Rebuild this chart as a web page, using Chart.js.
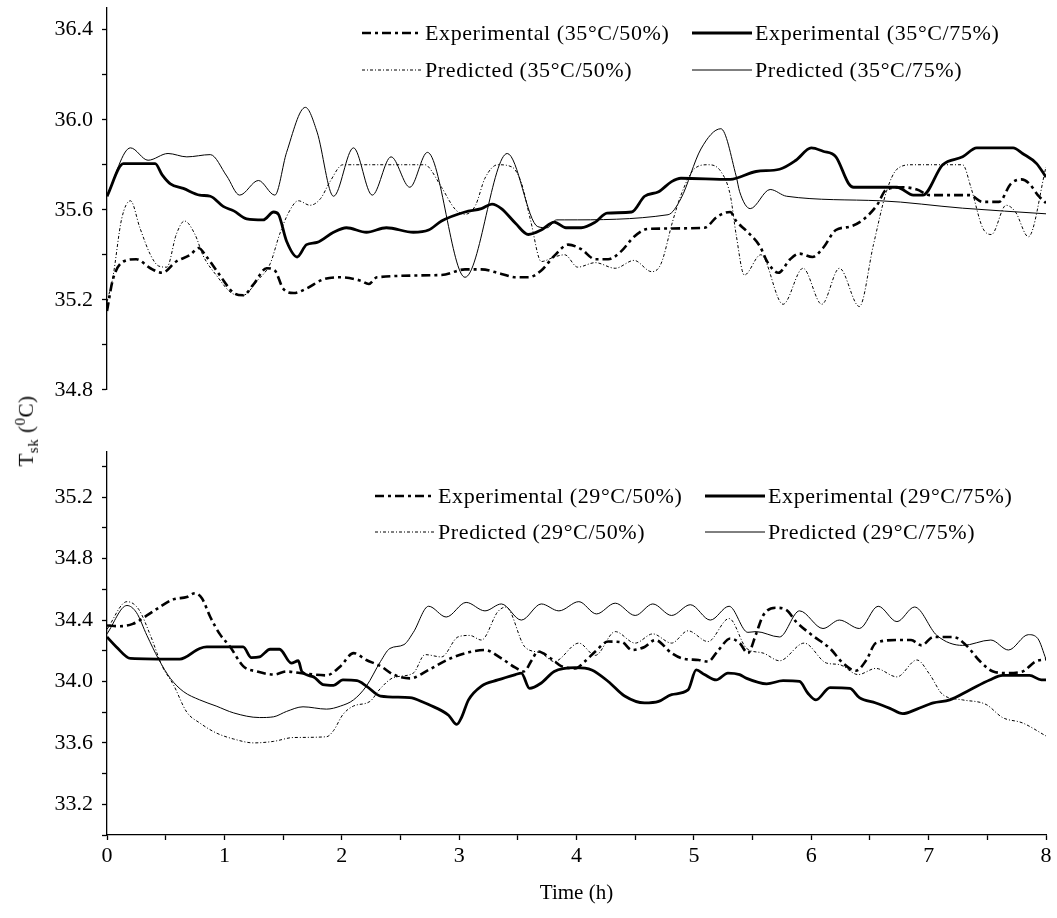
<!DOCTYPE html>
<html>
<head>
<meta charset="utf-8">
<script src="https://cdn.jsdelivr.net/npm/chart.js@4.4.0/dist/chart.umd.min.js"></script>
<style>
  body { margin: 0; background: #fff; width: 1057px; height: 918px; position: relative; overflow: hidden; font-family: "Liberation Serif", serif; }
  #topChart { position: absolute; left: 0; top: -15px; }
  #botChart { position: absolute; left: 0; top: 429px; }
  #yTitle { position: absolute; left: 27px; top: 431px; transform: translate(-50%, -50%) rotate(-90deg); font-size: 21px; white-space: nowrap; color: #000; letter-spacing: 0.5px; }
  #yTitle sub, #yTitle sup { font-size: 15px; }
</style>
</head>
<body>
<canvas id="topChart" width="1057" height="427"></canvas>
<canvas id="botChart" width="1057" height="489"></canvas>
<div id="yTitle">T<sub>sk</sub> (<sup>0</sup>C)</div>
<script>
// [time (h), skin temperature (°C)]
const exp35_50 = [[0,35.15],[0.05,35.29],[0.14,35.37],[0.25,35.38],[0.37,35.34],[0.47,35.32],[0.59,35.37],[0.71,35.40],[0.78,35.43],[0.85,35.39],[0.96,35.31],[1.08,35.23],[1.16,35.22],[1.25,35.27],[1.36,35.34],[1.43,35.33],[1.50,35.25],[1.59,35.23],[1.70,35.25],[1.84,35.29],[1.99,35.30],[2.16,35.285],[2.23,35.27],[2.30,35.30],[2.85,35.31],[3.05,35.335],[3.19,35.335],[3.36,35.315],[3.48,35.30],[3.59,35.30],[3.70,35.33],[3.81,35.395],[3.93,35.445],[4.04,35.425],[4.16,35.38],[4.27,35.38],[4.38,35.415],[4.49,35.48],[4.61,35.515],[5.09,35.52],[5.20,35.57],[5.31,35.59],[5.36,35.55],[5.45,35.505],[5.56,35.44],[5.63,35.365],[5.72,35.32],[5.82,35.38],[5.90,35.405],[6.01,35.39],[6.10,35.43],[6.21,35.51],[6.33,35.525],[6.44,35.555],[6.56,35.62],[6.64,35.69],[6.78,35.70],[6.90,35.69],[7.01,35.665],[7.35,35.665],[7.46,35.635],[7.60,35.635],[7.70,35.715],[7.79,35.735],[7.86,35.715],[7.93,35.665],[8.0,35.63]];
const exp35_75 = [[0,35.66],[0.14,35.805],[0.41,35.805],[0.47,35.755],[0.54,35.715],[0.65,35.695],[0.79,35.665],[0.88,35.66],[0.99,35.615],[1.08,35.595],[1.19,35.56],[1.33,35.555],[1.42,35.59],[1.46,35.58],[1.53,35.46],[1.62,35.39],[1.70,35.445],[1.79,35.455],[1.93,35.50],[2.04,35.52],[2.21,35.50],[2.38,35.52],[2.61,35.50],[2.74,35.51],[2.85,35.55],[3.05,35.59],[3.19,35.605],[3.28,35.625],[3.36,35.605],[3.48,35.54],[3.59,35.49],[3.70,35.51],[3.81,35.545],[3.91,35.52],[4.04,35.52],[4.16,35.545],[4.26,35.585],[4.47,35.59],[4.58,35.66],[4.70,35.68],[4.81,35.725],[4.89,35.74],[5.31,35.735],[5.53,35.77],[5.73,35.78],[5.87,35.82],[6.0,35.875],[6.10,35.86],[6.21,35.835],[6.32,35.715],[6.36,35.70],[6.73,35.70],[6.87,35.665],[6.95,35.665],[7.12,35.80],[7.29,35.835],[7.41,35.875],[7.72,35.875],[7.80,35.85],[7.92,35.805],[8.0,35.745]];
const pred35_50 = [[0,35.19],[0.05,35.30],[0.125,35.56],[0.2,35.64],[0.28,35.52],[0.37,35.40],[0.44,35.35],[0.51,35.345],[0.59,35.49],[0.66,35.55],[0.75,35.49],[0.82,35.395],[0.93,35.31],[1.08,35.225],[1.16,35.22],[1.28,35.285],[1.39,35.36],[1.47,35.49],[1.55,35.59],[1.63,35.64],[1.73,35.62],[1.82,35.65],[1.90,35.725],[2.01,35.80],[2.71,35.80],[2.74,35.79],[2.85,35.70],[2.97,35.60],[3.05,35.58],[3.14,35.62],[3.22,35.74],[3.33,35.80],[3.45,35.79],[3.53,35.72],[3.61,35.55],[3.70,35.37],[3.81,35.39],[3.90,35.40],[4.01,35.345],[4.16,35.365],[4.33,35.34],[4.49,35.375],[4.64,35.325],[4.72,35.36],[4.82,35.55],[4.89,35.665],[5.0,35.78],[5.12,35.80],[5.23,35.77],[5.31,35.665],[5.36,35.49],[5.43,35.31],[5.57,35.40],[5.76,35.18],[5.93,35.34],[6.09,35.18],[6.24,35.34],[6.41,35.17],[6.53,35.445],[6.64,35.68],[6.73,35.78],[6.86,35.80],[7.29,35.80],[7.36,35.70],[7.46,35.52],[7.535,35.49],[7.66,35.62],[7.74,35.59],[7.85,35.48],[8.0,35.79]];
const pred35_75 = [[0,35.665],[0.2,35.875],[0.35,35.82],[0.52,35.85],[0.68,35.835],[0.88,35.845],[1.02,35.75],[1.13,35.665],[1.29,35.73],[1.43,35.665],[1.53,35.855],[1.69,36.055],[1.79,35.945],[1.93,35.66],[2.1,35.875],[2.26,35.665],[2.42,35.835],[2.58,35.70],[2.73,35.855],[3.05,35.30],[3.41,35.85],[3.67,35.525],[3.75,35.52],[3.83,35.555],[3.90,35.555],[4.78,35.578],[4.89,35.65],[5.06,35.87],[5.23,35.96],[5.36,35.75],[5.39,35.68],[5.48,35.605],[5.65,35.69],[5.79,35.66],[6.585,35.64],[7.29,35.607],[8.0,35.582]];

const exp29_50 = [[0,34.365],[0.11,34.36],[0.22,34.375],[0.34,34.43],[0.45,34.485],[0.565,34.535],[0.68,34.55],[0.75,34.575],[0.81,34.54],[0.88,34.42],[0.96,34.31],[1.05,34.225],[1.16,34.10],[1.28,34.065],[1.42,34.045],[1.53,34.065],[1.645,34.055],[1.87,34.04],[1.99,34.10],[2.10,34.185],[2.21,34.14],[2.33,34.10],[2.44,34.045],[2.58,34.02],[2.74,34.075],[2.91,34.145],[3.08,34.19],[3.22,34.205],[3.36,34.15],[3.48,34.09],[3.55,34.065],[3.62,34.14],[3.67,34.195],[3.79,34.145],[3.87,34.10],[3.99,34.085],[4.07,34.13],[4.16,34.195],[4.27,34.26],[4.39,34.255],[4.47,34.205],[4.58,34.225],[4.67,34.27],[4.81,34.185],[4.90,34.15],[5.04,34.14],[5.12,34.13],[5.21,34.205],[5.31,34.28],[5.39,34.25],[5.46,34.185],[5.53,34.31],[5.59,34.43],[5.70,34.48],[5.79,34.465],[5.87,34.39],[6.01,34.30],[6.16,34.215],[6.27,34.12],[6.38,34.07],[6.47,34.14],[6.55,34.25],[6.73,34.27],[6.85,34.27],[6.94,34.235],[7.04,34.29],[7.21,34.29],[7.32,34.235],[7.44,34.13],[7.55,34.065],[7.66,34.055],[7.80,34.065],[7.91,34.13],[8.0,34.145]];
const exp29_75 = [[0,34.29],[0.08,34.225],[0.2,34.15],[0.62,34.145],[0.79,34.215],[0.85,34.225],[1.16,34.225],[1.23,34.155],[1.30,34.16],[1.39,34.21],[1.47,34.21],[1.57,34.12],[1.63,34.135],[1.66,34.065],[1.76,34.03],[1.84,33.98],[1.93,33.975],[2.01,34.01],[2.13,34.005],[2.21,33.97],[2.33,33.905],[2.58,33.895],[2.71,33.86],[2.74,33.85],[2.91,33.78],[2.98,33.72],[3.02,33.765],[3.08,33.88],[3.19,33.97],[3.33,34.01],[3.48,34.045],[3.53,34.055],[3.60,33.955],[3.70,33.99],[3.81,34.065],[3.99,34.09],[4.13,34.075],[4.27,34.0],[4.41,33.905],[4.58,33.86],[4.70,33.87],[4.81,33.915],[4.95,33.945],[5.02,34.075],[5.09,34.045],[5.19,34.01],[5.29,34.055],[5.39,34.045],[5.45,34.02],[5.62,33.985],[5.76,34.005],[5.90,34.0],[5.97,33.925],[6.04,33.88],[6.16,33.96],[6.33,33.955],[6.41,33.895],[6.55,33.86],[6.67,33.825],[6.78,33.79],[6.90,33.82],[7.04,33.86],[7.18,33.88],[7.35,33.945],[7.52,34.01],[7.63,34.04],[7.86,34.04],[7.96,34.01],[8.0,34.01]];
const pred29_50 = [[0,34.34],[0.17,34.52],[0.27,34.47],[0.37,34.30],[0.47,34.10],[0.565,33.98],[0.68,33.80],[0.79,33.73],[0.93,33.665],[1.08,33.625],[1.25,33.60],[1.42,33.61],[1.59,33.635],[1.87,33.64],[1.93,33.68],[2.01,33.785],[2.10,33.84],[2.24,33.87],[2.33,33.955],[2.44,34.025],[2.61,34.055],[2.71,34.175],[2.85,34.16],[2.99,34.29],[3.09,34.30],[3.19,34.27],[3.33,34.455],[3.40,34.485],[3.56,34.225],[3.70,34.185],[3.81,34.13],[4.02,34.25],[4.16,34.17],[4.33,34.325],[4.50,34.25],[4.65,34.31],[4.81,34.25],[4.95,34.33],[5.12,34.26],[5.30,34.41],[5.45,34.215],[5.59,34.185],[5.73,34.135],[5.94,34.25],[6.13,34.12],[6.24,34.11],[6.40,34.045],[6.55,34.085],[6.73,34.03],[6.90,34.14],[7.01,34.045],[7.12,33.915],[7.29,33.88],[7.49,33.85],[7.63,33.765],[7.80,33.73],[8.0,33.645]];
const pred29_75 = [[0,34.31],[0.17,34.495],[0.25,34.45],[0.34,34.30],[0.44,34.145],[0.54,34.02],[0.65,33.935],[0.79,33.88],[0.93,33.84],[1.08,33.795],[1.30,33.765],[1.42,33.77],[1.53,33.805],[1.67,33.835],[1.87,33.82],[1.99,33.84],[2.10,33.88],[2.21,33.97],[2.33,34.13],[2.41,34.215],[2.53,34.24],[2.61,34.32],[2.74,34.49],[2.89,34.42],[3.06,34.515],[3.22,34.46],[3.36,34.505],[3.53,34.40],[3.70,34.505],[3.85,34.46],[4.02,34.52],[4.17,34.44],[4.33,34.51],[4.50,34.43],[4.65,34.505],[4.81,34.43],[4.97,34.50],[5.14,34.40],[5.30,34.49],[5.46,34.32],[5.53,34.325],[5.73,34.29],[5.90,34.46],[6.10,34.345],[6.24,34.40],[6.41,34.345],[6.57,34.49],[6.73,34.39],[6.88,34.485],[7.07,34.30],[7.29,34.235],[7.53,34.27],[7.68,34.205],[7.85,34.305],[7.93,34.28],[8.0,34.145]];

const labels35 = ['Experimental (35°C/50%)', 'Experimental (35°C/75%)', 'Predicted (35°C/50%)', 'Predicted (35°C/75%)'];
const labels29 = ['Experimental (29°C/50%)', 'Experimental (29°C/75%)', 'Predicted (29°C/50%)', 'Predicted (29°C/75%)'];

const FONT = 'Liberation Serif';
const dashDot = [9, 4, 3, 4];
const fineDot = [3, 2, 1, 2];

function line(label, pts, width, dash) {
    return {
        label: label,
        data: pts.map(p => ({ x: p[0], y: p[1] })),
        borderColor: '#000',
        borderWidth: width,
        borderDash: dash,
        pointRadius: 0,
        fill: false,
        cubicInterpolationMode: 'monotone'
    };
}

// legend drawn inside the plot, two columns
const inlineLegend = {
    id: 'inlineLegend',
    afterDraw(chart, args, opts) {
        const ctx = chart.ctx;
        ctx.save();
        ctx.font = opts.size + 'px "' + FONT + '"';
        if ('letterSpacing' in ctx) ctx.letterSpacing = opts.spacing + 'px';
        ctx.fillStyle = '#000';
        ctx.textBaseline = 'middle';
        chart.data.datasets.forEach((ds, i) => {
            const x = opts.cols[i % 2];
            const y = opts.rows[Math.floor(i / 2)];
            ctx.beginPath();
            ctx.setLineDash(ds.borderDash || []);
            ctx.lineWidth = ds.borderWidth;
            ctx.strokeStyle = ds.borderColor;
            ctx.moveTo(x, y);
            ctx.lineTo(x + opts.sample, y);
            ctx.stroke();
            ctx.setLineDash([]);
            ctx.fillText(ds.label, x + opts.sample + 3, y + 1);
        });
        ctx.restore();
    }
};

function yAxis(min, max) {
    return {
        type: 'linear',
        min: min,
        max: max,
        afterFit: s => { s.width = 107; },
        border: { display: true, color: '#000', width: 1.3 },
        grid: { drawOnChartArea: false, drawTicks: true, tickLength: 5, tickColor: '#000', tickWidth: 1.3 },
        ticks: {
            stepSize: 0.2,
            includeBounds: false,
            autoSkip: false,
            padding: 9,
            color: '#000',
            font: { family: FONT, size: 22 },
            callback: v => (Math.round(v * 10) % 4 === 0 ? v.toFixed(1) : '')
        }
    };
}

function baseOptions(padding, legend) {
    return {
        responsive: false,
        animation: false,
        layout: { padding: padding },
        plugins: {
            legend: { display: false },
            tooltip: { enabled: false },
            inlineLegend: legend
        }
    };
}

// top panel: 35 °C
const topOpts = baseOptions({ left: 0, right: 11, top: 20, bottom: 20 },
    { cols: [362, 692], rows: [48, 85], sample: 60, size: 22, spacing: 0.6 });
topOpts.scales = {
    x: { type: 'linear', min: 0, max: 8, display: false },
    y: yAxis(34.8, 36.5)
};
new Chart(document.getElementById('topChart').getContext('2d'), {
    type: 'line',
    data: {
        datasets: [
            line(labels35[0], exp35_50, 2.6, dashDot),
            line(labels35[1], exp35_75, 2.8, []),
            line(labels35[2], pred35_50, 1, fineDot),
            line(labels35[3], pred35_75, 1, [])
        ]
    },
    options: topOpts,
    plugins: [inlineLegend]
});

// bottom panel: 29 °C
const botOpts = baseOptions({ left: 0, right: 11, top: 20, bottom: 0 },
    { cols: [375, 705], rows: [67, 103], sample: 60, size: 22, spacing: 0.6 });
botOpts.scales = {
    x: {
        type: 'linear',
        min: 0,
        max: 8,
        afterFit: s => { s.height = 83; },
        border: { display: true, color: '#000', width: 1.3 },
        grid: { drawOnChartArea: false, drawTicks: true, tickLength: 5, tickColor: '#000', tickWidth: 1.3 },
        ticks: {
            stepSize: 0.5,
            autoSkip: false,
            maxRotation: 0,
            padding: 3,
            color: '#000',
            font: { family: FONT, size: 22 },
            callback: v => (Math.abs(v - Math.round(v)) < 1e-6 ? String(Math.round(v)) : '')
        },
        title: {
            display: true,
            text: 'Time (h)',
            color: '#000',
            font: { family: FONT, size: 21 },
            padding: { top: 0, bottom: 12 }
        }
    },
    y: yAxis(33.0, 35.5)
};
new Chart(document.getElementById('botChart').getContext('2d'), {
    type: 'line',
    data: {
        datasets: [
            line(labels29[0], exp29_50, 2.6, dashDot),
            line(labels29[1], exp29_75, 2.8, []),
            line(labels29[2], pred29_50, 1, fineDot),
            line(labels29[3], pred29_75, 1, [])
        ]
    },
    options: botOpts,
    plugins: [inlineLegend]
});
</script>
</body>
</html>
